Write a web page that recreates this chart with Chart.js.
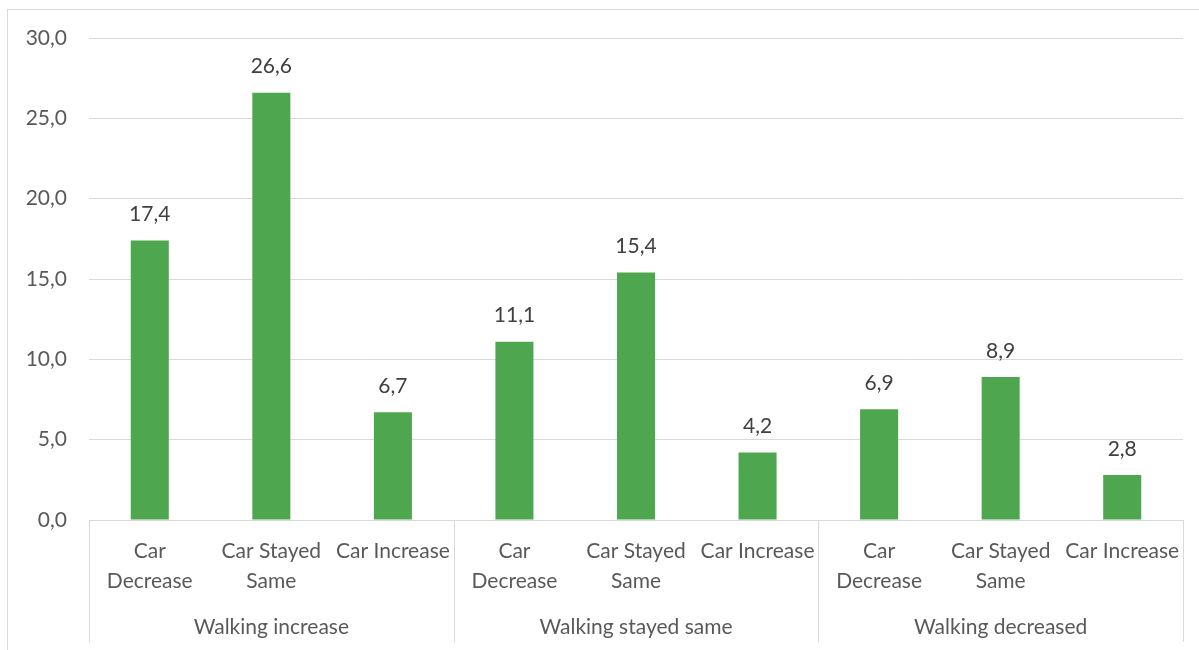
<!DOCTYPE html>
<html>
<head>
<meta charset="utf-8">
<title>Walking and car use change</title>
<script src="https://cdn.jsdelivr.net/npm/chart.js@4.4.1/dist/chart.umd.min.js"></script>
<style>
  html, body { margin: 0; padding: 0; background: #ffffff; overflow: hidden; }
  #frame {
    position: absolute; left: 7px; top: 9px;
    width: 1199px; height: 660px;
    border: 1px solid #d9d9d9; box-sizing: border-box; background: #fff;
  }
  canvas { display: block; }
</style>
</head>
<body>
<div id="frame"><canvas id="chart"></canvas></div>
<script>
// Sub-categories (car use change) repeated inside each walking group
const carLabels = [
  ['Car', 'Decrease'], ['Car Stayed', 'Same'], 'Car Increase',
  ['Car', 'Decrease'], ['Car Stayed', 'Same'], 'Car Increase',
  ['Car', 'Decrease'], ['Car Stayed', 'Same'], 'Car Increase'
];
// Outer groups (walking change), each spanning three sub-categories
const walkingGroups = ['Walking increase', 'Walking stayed same', 'Walking decreased'];
const groupSize = 3;
// Share of respondents (%)
const shares = [17.4, 26.6, 6.7, 11.1, 15.4, 4.2, 6.9, 8.9, 2.8];
// Value axis
const yMin = 0, yMax = 30, yStep = 5;

const FONT = 'Lato, "Open Sans", sans-serif';
const FONT_SIZE = 21;
const AXIS_GREY = '#595959';
const LINE_GREY = '#d9d9d9';
const fmt = v => v.toFixed(1).replace('.', ',');

// Value labels above bars, group separators and outer group labels
const decorations = {
  id: 'decorations',
  afterDatasetsDraw(chart) {
    const ctx = chart.ctx;
    const meta = chart.getDatasetMeta(0);
    ctx.save();
    ctx.font = FONT_SIZE + 'px ' + FONT;
    ctx.fillStyle = '#404040';
    ctx.textAlign = 'center';
    ctx.textBaseline = 'middle';
    meta.data.forEach((bar, i) => {
      ctx.fillText(fmt(shares[i]), bar.x, bar.y - 26);
    });
    ctx.restore();
  },
  afterDraw(chart) {
    const ctx = chart.ctx;
    const x = chart.scales.x;
    const top = chart.chartArea.bottom;
    const bottom = top + 122;
    const half = (x.getPixelForValue(1) - x.getPixelForValue(0)) / 2;
    ctx.save();
    ctx.strokeStyle = LINE_GREY;
    ctx.lineWidth = 1;
    for (let g = 0; g <= walkingGroups.length; g++) {
      const idx = g * groupSize;
      const px = Math.round(x.getPixelForValue(Math.min(idx, carLabels.length - 1)) + (idx >= carLabels.length ? half : -half)) + 0.5;
      ctx.beginPath();
      ctx.moveTo(px, top);
      ctx.lineTo(px, bottom);
      ctx.stroke();
    }
    ctx.font = FONT_SIZE + 'px ' + FONT;
    ctx.fillStyle = AXIS_GREY;
    ctx.textAlign = 'center';
    ctx.textBaseline = 'middle';
    walkingGroups.forEach((name, g) => {
      const a = x.getPixelForValue(g * groupSize);
      const b = x.getPixelForValue(g * groupSize + groupSize - 1);
      ctx.fillText(name, (a + b) / 2, top + 107);
    });
    ctx.restore();
  }
};

new Chart(document.getElementById('chart'), {
  type: 'bar',
  data: {
    labels: carLabels,
    datasets: [{
      data: shares,
      backgroundColor: '#4ea74e',
      borderWidth: 0,
      categoryPercentage: 1.0,
      barPercentage: 0.313
    }]
  },
  options: {
    responsive: true,
    maintainAspectRatio: false,
    animation: false,
    layout: { padding: { top: 28, right: 22, bottom: 0, left: 0 } },
    plugins: {
      legend: { display: false },
      tooltip: { enabled: false }
    },
    scales: {
      x: {
        grid: { display: false, drawTicks: false },
        border: { display: true, color: LINE_GREY },
        ticks: {
          color: AXIS_GREY,
          font: { family: FONT, size: FONT_SIZE, lineHeight: 1.4 },
          padding: 17,
          maxRotation: 0,
          autoSkip: false
        },
        afterFit(scale) { scale.height = 148; }
      },
      y: {
        min: yMin, max: yMax,
        grid: { color: LINE_GREY, drawTicks: false },
        border: { display: false },
        ticks: {
          stepSize: yStep,
          color: AXIS_GREY,
          font: { family: FONT, size: FONT_SIZE },
          padding: 22,
          callback: v => fmt(v)
        },
        afterFit(scale) {
          scale.width = 81;
          scale.paddingTop = 0;
          scale.paddingBottom = 0;
        }
      }
    }
  },
  plugins: [decorations]
});
</script>
</body>
</html>
